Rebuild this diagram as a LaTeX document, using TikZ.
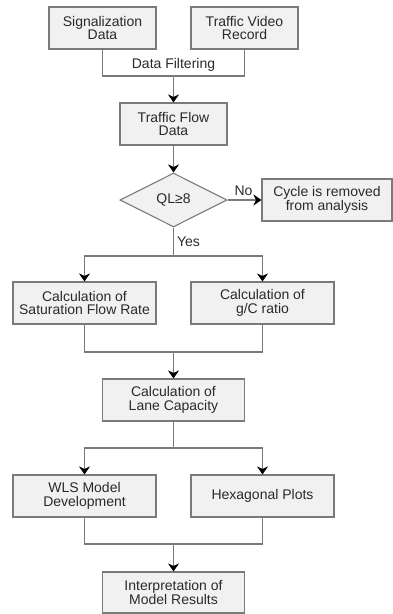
\documentclass[tikz,border=0pt]{standalone}
\usepackage{fontspec}
\setmainfont{Liberation Sans}
\usetikzlibrary{arrows.meta,shapes.geometric}
\definecolor{boxfill}{HTML}{F1F1F1}
\definecolor{boxline}{HTML}{7A7A7A}
\definecolor{txt}{HTML}{2A2A2A}
\tikzset{
  box/.style={draw=boxline, line width=1.1pt, fill=boxfill, rectangle, align=center,
    inner sep=0pt, text=txt, font=\fontsize{14}{13.5}\selectfont},
  dia/.style={draw=boxline, line width=1.1pt, fill=boxfill, diamond, aspect=2, inner sep=0pt,
    minimum width=107pt, minimum height=54pt, text=txt, font=\fontsize{14}{13.5}\selectfont},
  conn/.style={draw=boxline, line width=1.1pt},
  arr/.style={conn, -{Stealth[length=8pt,width=11pt,inset=2.5pt,color=black]}},
  lbl/.style={text=txt, font=\fontsize{14}{13.5}\selectfont, inner sep=1pt}
}
\begin{document}
\begin{tikzpicture}[x=1pt,y=-1pt]
\useasboundingbox (0,0) rectangle (393,614);
\node[box, minimum width=107pt, minimum height=42pt] (sig) at (102.5,28) {Signalization\\Data};
\node[box, minimum width=107pt, minimum height=42pt] (vid) at (244.5,28) {Traffic Video\\Record};
\node[box, minimum width=107pt, minimum height=42pt] (flow) at (173.5,124) {Traffic Flow\\Data};
\node[dia] (q) at (173.5,200) {QL≥8};
\node[box, minimum width=130pt, minimum height=42pt] (cyc) at (327,200) {Cycle is removed\\from analysis};
\node[box, minimum width=143pt, minimum height=42pt] (sat) at (84.5,303) {Calculation of\\Saturation Flow Rate};
\node[box, minimum width=143pt, minimum height=42pt] (gc) at (262.5,303) {Calculation of\\g/C ratio};
\node[box, minimum width=142pt, minimum height=42pt] (lane) at (173.5,400) {Calculation of\\Lane Capacity};
\node[box, minimum width=143pt, minimum height=42pt] (wls) at (84.5,496) {WLS Model\\Development};
\node[box, minimum width=143pt, minimum height=42pt] (hex) at (262.5,496) {Hexagonal Plots};
\node[box, minimum width=142pt, minimum height=41pt] (interp) at (173.5,592.5) {Interpretation of\\Model Results};
\coordinate (j1) at (173.5,76);
\coordinate (j2) at (173.5,256);
\coordinate (j3) at (173.5,352);
\coordinate (j4) at (173.5,448);
\coordinate (j5) at (173.5,544);
\draw[conn] (sig.south) |- (j1) -| (vid.south);
\node[lbl] (filt) at (173.5,65) {Data Filtering};
\draw[arr] (j1) -- (flow.north);
\draw[arr] (flow.south) -- (q.north);
\draw[arr] (q.east) -- node[lbl, above=3pt, xshift=-1pt] {No} (cyc.west);
\draw[conn] (q.south) -- node[lbl, right=2pt] {Yes} (j2);
\draw[arr] (j2) -| (sat.north);
\draw[arr] (j2) -| (gc.north);
\draw[conn] (sat.south) |- (j3) -| (gc.south);
\draw[arr] (j3) -- (lane.north);
\draw[conn] (lane.south) -- (j4);
\draw[arr] (j4) -| (wls.north);
\draw[arr] (j4) -| (hex.north);
\draw[conn] (wls.south) |- (j5) -| (hex.south);
\draw[arr] (j5) -- (interp.north);
\end{tikzpicture}
\end{document}
